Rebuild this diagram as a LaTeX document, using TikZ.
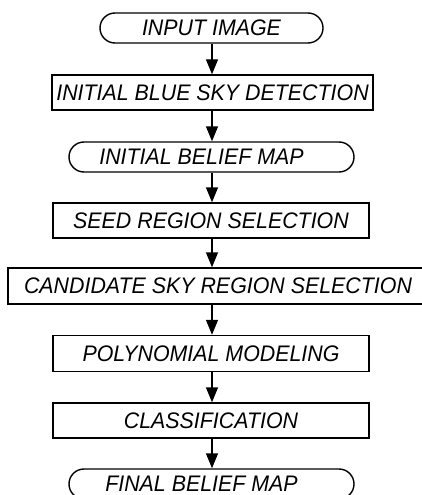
\documentclass[tikz,border=0pt]{standalone}
\usepackage{fontspec}
\setmainfont{Liberation Sans}[FakeStretch=0.95]
\usetikzlibrary{arrows.meta,shapes.misc}
\begin{document}
\begin{tikzpicture}[x=1pt,y=-1pt,
  every node/.style={font=\fontsize{22.5}{26}\selectfont\itshape, inner sep=0pt, line width=1.4pt, draw=black},
  stepbox/.style={rectangle, minimum height=35pt},
  termbox/.style={rounded rectangle, minimum height=30pt},
  flow/.style={line width=1.4pt, -{Triangle[length=15pt,width=12pt]}}]
\useasboundingbox (0,0) rectangle (422,495);
\clip (0,0) rectangle (422,495);
\fill[white] (0,0) rectangle (422,495);
\node[termbox, minimum width=223pt] (in) at (211.5,28) {INPUT IMAGE};
\node[stepbox, minimum width=321pt] (ibsd) at (212.5,92.5) {INITIAL BLUE SKY DETECTION};
\node[termbox, minimum width=285pt] (ibm) at (211.5,157) {INITIAL BELIEF MAP\hspace*{20pt}};
\node[stepbox, minimum width=316pt] (srs) at (211,220.5) {SEED REGION SELECTION};
\node[stepbox, minimum width=420pt, minimum height=36pt] (csrs) at (218,286) {CANDIDATE SKY REGION SELECTION};
\node[stepbox, minimum width=316pt, minimum height=36pt] (pm) at (211,353.5) {POLYNOMIAL MODELING};
\node[stepbox, minimum width=316pt] (cl) at (211,420.5) {CLASSIFICATION};
\node[termbox, minimum width=285pt] (fbm) at (211.5,484) {FINAL BELIEF MAP\hspace*{20pt}};
\coordinate (ax) at (212,0);
\draw[flow] (in.south -| ax) -- (ibsd.north -| ax);
\draw[flow] (ibsd.south -| ax) -- (ibm.north -| ax);
\draw[flow] (ibm.south -| ax) -- (srs.north -| ax);
\draw[flow] (srs.south -| ax) -- (csrs.north -| ax);
\draw[flow] (csrs.south -| ax) -- (pm.north -| ax);
\draw[flow] (pm.south -| ax) -- (cl.north -| ax);
\draw[flow] (cl.south -| ax) -- (fbm.north -| ax);
\end{tikzpicture}
\end{document}
